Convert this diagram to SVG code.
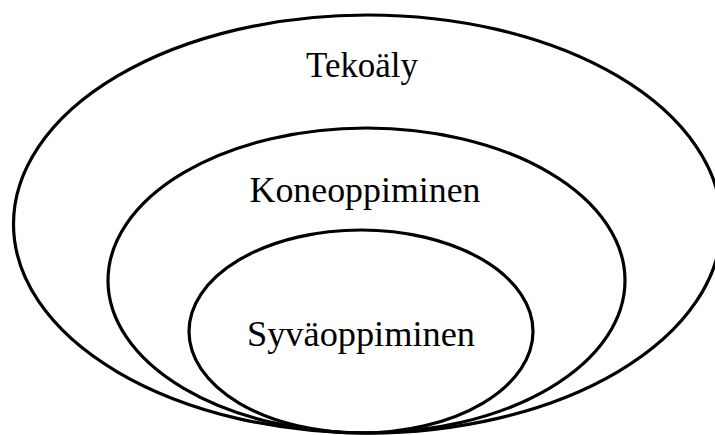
<svg xmlns="http://www.w3.org/2000/svg" width="715" height="435" viewBox="0 0 715 435">
<style>
.e{fill:none;stroke:#000;stroke-width:3.2}
.t{font-family:"Liberation Serif","DejaVu Serif",serif;font-size:35px;fill:#000;text-anchor:middle}
</style>
<rect width="715" height="435" fill="#fff"/>
<g id="tekoaly">
<ellipse class="e" cx="367.5" cy="224" rx="354" ry="209"/>
<text class="t" x="362" y="76.5" textLength="112" lengthAdjust="spacingAndGlyphs">Tekoäly</text>
</g>
<g id="koneoppiminen">
<ellipse class="e" cx="366.5" cy="280.5" rx="258.5" ry="152.5"/>
<text class="t" x="365" y="201.5" textLength="231" lengthAdjust="spacingAndGlyphs">Koneoppiminen</text>
</g>
<g id="syvaoppiminen">
<ellipse class="e" cx="361" cy="331.5" rx="172" ry="101.5"/>
<text class="t" x="361" y="346" textLength="228" lengthAdjust="spacingAndGlyphs">Syväoppiminen</text>
</g>
<g id="connectors"/>
</svg>
